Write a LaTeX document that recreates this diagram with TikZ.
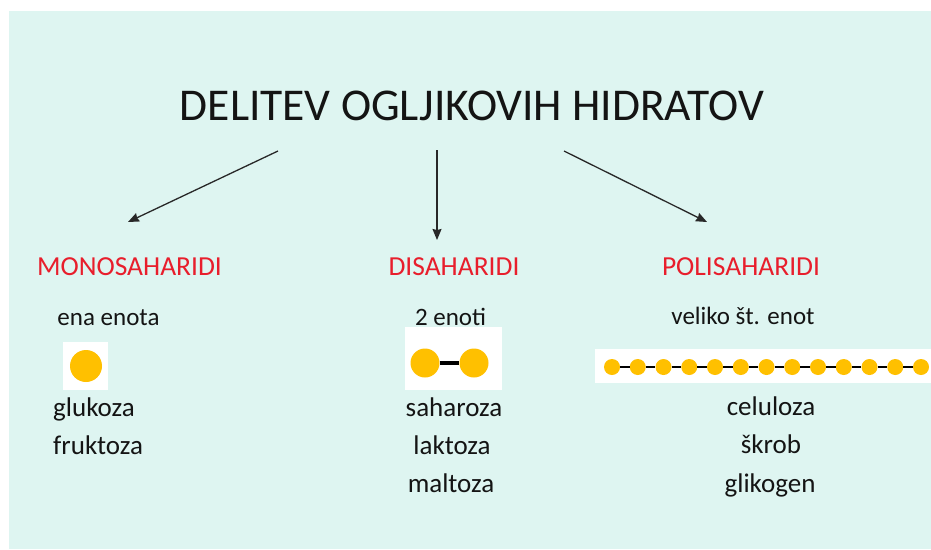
\documentclass[tikz,border=0pt]{standalone}
\usepackage{fontspec}
\setmainfont{Carlito}
\usepackage{tikz}
\usetikzlibrary{arrows.meta}
\definecolor{mintbg}{RGB}{222,245,241}
\definecolor{sahred}{RGB}{232,30,44}
\definecolor{dotgold}{RGB}{255,192,0}
\definecolor{textblack}{RGB}{20,20,20}
\definecolor{arrowgray}{RGB}{40,40,40}

\begin{document}
\begin{tikzpicture}[x=1pt,y=-1pt,
    cattext/.style={text=sahred, font=\fontsize{27.5}{30}\selectfont, anchor=base, inner sep=0pt},
    unittext/.style={text=textblack, font=\fontsize{25}{28}\selectfont, anchor=base, inner sep=0pt},
    sugartext/.style={text=textblack, font=\fontsize{27}{30}\selectfont, anchor=base, inner sep=0pt},
    unitdot/.style={circle, fill=dotgold, inner sep=0pt},
    arr/.style={-{Stealth[length=11pt,width=9pt,inset=1pt]}, line width=1.3pt, draw=arrowgray}]
  \useasboundingbox (0,0) rectangle (931,549);
  \fill[white] (0,0) rectangle (931,549);
  \fill[mintbg] (9,11) rectangle (931,549);

  % title
  \node (title) [anchor=base, inner sep=0pt, text=textblack, font=\fontsize{45.5}{50}\selectfont] at (472,120) {DELITEV OGLJIKOVIH HIDRATOV};

  % three groups
  \node (mono) [cattext] at (129.5,275) {MONOSAHARIDI};
  \node (di) [cattext] at (454,275) {DISAHARIDI};
  \node (poli) [cattext] at (741,275) {POLISAHARIDI};

  \node (ena) [unittext] at (108.5,325) {ena enota};
  \node (dve) [unittext] at (450.5,325) {2 enoti};
  \node (vec) [unittext] at (743,324) {veliko št. enot};

  % arrows from the title
  \coordinate (monotop) at (128,222);
  \coordinate (ditop) at (437,240);
  \coordinate (politop) at (707,222);
  \coordinate (titlel) at (278,151);
  \coordinate (titlem) at (437,150);
  \coordinate (titler) at (564,151);
  \draw[arr] (titlel) -- (monotop);
  \draw[arr] (titlem) -- (ditop);
  \draw[arr] (titler) -- (politop);

  % one unit
  \fill[white] (63,342) rectangle (108,390);
  \node (m1) [unitdot, minimum size=32pt] at (86,366) {};

  % two units
  \fill[white] (405,327) rectangle (502,390);
  \node (d1) [unitdot, minimum size=29pt] at (425,363) {};
  \node (d2) [unitdot, minimum size=29pt] at (474,363) {};
  \draw[line width=4pt, black] (d1) -- (d2);

  % many units
  \fill[white] (595,349) rectangle (931,383);
  \foreach \i in {1,...,13}
    \node (p\i) [unitdot, minimum size=16pt] at ({612+(\i-1)*25.75},367) {};
  \foreach \i [evaluate=\i as \j using int(\i+1)] in {1,...,12}
    \draw[line width=2.5pt, black] (p\i) -- (p\j);

  % examples
  \node (gluk) [sugartext, anchor=base west] at (53,416) {glukoza};
  \node (fruk) [sugartext, anchor=base west] at (53,454) {fruktoza};

  \node (sah) [sugartext] at (454,416) {saharoza};
  \node (lak) [sugartext] at (452,454) {laktoza};
  \node (malt) [sugartext] at (451,492) {maltoza};

  \node (cel) [sugartext] at (771,415) {celuloza};
  \node (skrob) [sugartext] at (771,453) {škrob};
  \node (glik) [sugartext] at (770,492) {glikogen};
\end{tikzpicture}
\end{document}
